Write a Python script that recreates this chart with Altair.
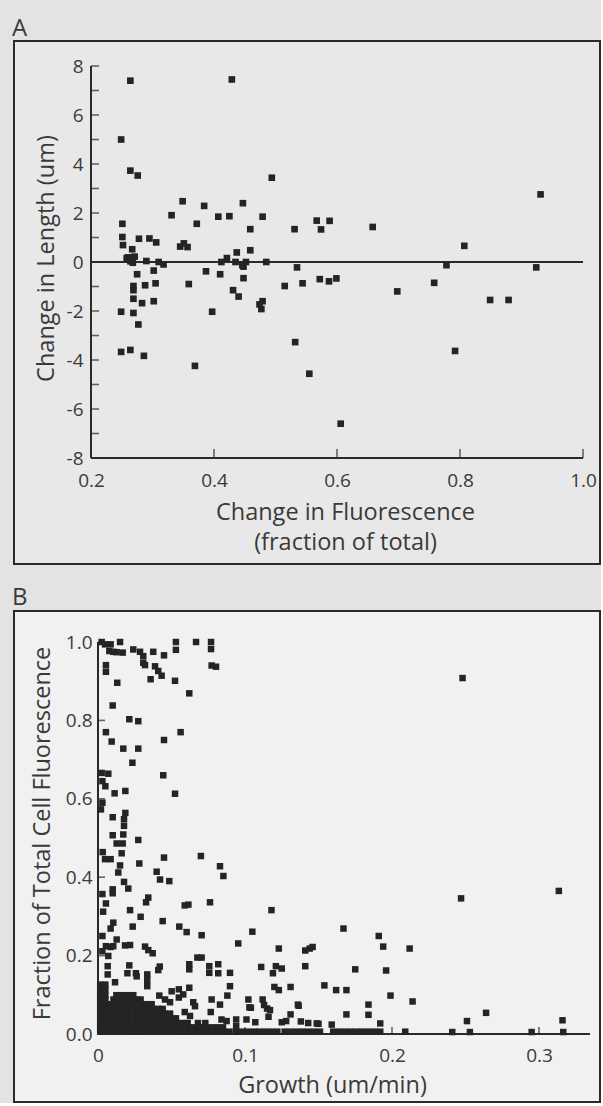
import altair as alt
import pandas as pd

FONT = "Open Sans"
TEXT = "#3a3a3a"
LINE = "#2a2a2a"
POINT = "#242424"

# ---------------- Panel A: change in fluorescence vs change in length ----------------
a_fluor = [0.264, 0.429, 0.249, 0.264, 0.276, 0.494, 0.931, 0.349, 0.447, 0.384,
           0.331, 0.407, 0.425, 0.479, 0.251, 0.372, 0.567, 0.588, 0.574, 0.531,
           0.459, 0.658, 0.251, 0.252, 0.267, 0.278, 0.295, 0.306, 0.345, 0.351,
           0.357, 0.437, 0.459, 0.807, 0.260, 0.266, 0.271, 0.264, 0.290, 0.310,
           0.318, 0.412, 0.421, 0.435, 0.446, 0.452, 0.485, 0.275, 0.302, 0.387,
           0.410, 0.448, 0.269, 0.269, 0.288, 0.305, 0.359, 0.269, 0.283, 0.302,
           0.431, 0.440, 0.474, 0.479, 0.477, 0.515, 0.535, 0.544, 0.572, 0.587,
           0.599, 0.698, 0.758, 0.778, 0.924, 0.849, 0.879, 0.249, 0.269, 0.397,
           0.277, 0.532, 0.249, 0.264, 0.286, 0.792, 0.369, 0.555, 0.606, 0.258,
           0.268, 0.448]
a_length = [7.40, 7.45, 5.00, 3.73, 3.53, 3.44, 2.76, 2.48, 2.40, 2.29,
            1.91, 1.85, 1.87, 1.85, 1.56, 1.56, 1.69, 1.68, 1.33, 1.34,
            1.34, 1.43, 1.02, 0.69, 0.52, 0.95, 0.96, 0.80, 0.63, 0.76,
            0.61, 0.39, 0.48, 0.66, 0.19, 0.19, 0.22, 0.03, 0.04, 0.00,
            -0.10, 0.00, 0.16, 0.00, -0.13, 0.00, 0.00, -0.50, -0.35, -0.38,
            -0.50, -0.66, -0.98, -1.15, -0.95, -0.87, -0.90, -1.50, -1.68, -1.60,
            -1.15, -1.41, -1.73, -1.60, -1.92, -0.98, -0.22, -0.87, -0.70, -0.79,
            -0.67, -1.20, -0.85, -0.13, -0.22, -1.55, -1.55, -2.03, -2.08, -2.03,
            -2.55, -3.27, -3.67, -3.59, -3.83, -3.63, -4.24, -4.56, -6.60, 0.15,
            -0.03, -0.19]

a_x_ticks = [0.2, 0.4, 0.6, 0.8, 1.0]
a_y_labels = [-8, -6, -4, -2, 0, 2, 4, 6, 8]
a_y_ticks = [-8, -7, -6, -5, -4, -3, -2, -1, 0, 1, 2, 3, 4, 5, 6, 7, 8]

# ---------------- Panel B: growth vs fraction of total cell fluorescence ----------------
b_growth = [
    0.0025, 0.0048, 0.0086, 0.015, 0.0077, 0.0104, 0.0127, 0.0168, 0.024, 0.0286,
    0.0308, 0.0308, 0.032, 0.0376, 0.0449, 0.053, 0.053, 0.0667, 0.0769, 0.0769,
    0.0773, 0.0803, 0.0054, 0.0054, 0.0388, 0.041, 0.0433, 0.0358, 0.0524, 0.0131,
    0.0621, 0.010, 0.0213, 0.0274, 0.0054, 0.0562, 0.0093, 0.0449, 0.0172, 0.0274,
    0.0234, 0.0444, 0.0025, 0.007, 0.003, 0.005, 0.0113, 0.0186, 0.0524, 0.003,
    0.002, 0.010, 0.0186, 0.0177, 0.0177, 0.248,
    0.0172, 0.010, 0.0274, 0.0127, 0.0168, 0.0161, 0.0032, 0.0048, 0.0086, 0.0281,
    0.0449, 0.070, 0.083, 0.0853, 0.015, 0.0138, 0.0399, 0.0422, 0.0485, 0.0177,
    0.0206, 0.010, 0.010, 0.003, 0.0054, 0.0342, 0.0327, 0.059, 0.0615, 0.0762,
    0.0218, 0.0035, 0.029, 0.044, 0.0104, 0.0086, 0.0236, 0.0553, 0.0603, 0.0705,
    0.0954, 0.003, 0.0127, 0.0054, 0.0086, 0.0104, 0.0184, 0.0218, 0.003, 0.007,
    0.032, 0.0342, 0.0372, 0.0676, 0.0705, 0.0621, 0.0621, 0.0757, 0.0757, 0.0818,
    0.0818, 0.0213, 0.042, 0.041, 0.0066, 0.0066, 0.020, 0.0258, 0.0263, 0.0335,
    0.0335, 0.0335, 0.0898, 0.0898, 0.088, 0.1023, 0.0116, 0.0621, 0.0501, 0.055,
    0.058, 0.055, 0.0417, 0.0456, 0.049, 0.0648, 0.066, 0.0773, 0.083, 0.0767,
    0.059, 0.0626, 0.084, 0.0875, 0.094, 0.094, 0.103,
    0.118, 0.105, 0.167, 0.191, 0.194, 0.212, 0.123, 0.141, 0.144, 0.146,
    0.111, 0.121, 0.125, 0.119, 0.141, 0.175, 0.196, 0.120, 0.123, 0.131,
    0.154, 0.162, 0.169, 0.199, 0.214, 0.104, 0.112, 0.113, 0.115, 0.117,
    0.116, 0.136, 0.184, 0.131, 0.169, 0.184, 0.101, 0.107, 0.125, 0.138,
    0.143, 0.150, 0.159, 0.192, 0.209, 0.247, 0.3135, 0.251, 0.264, 0.316,
    0.241, 0.253, 0.295, 0.3165, 0.1365, 0.1488, 0.128]
b_fraction = [
    1.000, 0.994, 0.994, 1.000, 0.977, 0.975, 0.974, 0.973, 0.981, 0.975,
    0.964, 0.947, 0.941, 0.975, 0.966, 1.000, 0.980, 1.000, 1.000, 0.982,
    0.940, 0.937, 0.941, 0.924, 0.938, 0.926, 0.914, 0.905, 0.901, 0.896,
    0.869, 0.838, 0.803, 0.798, 0.770, 0.770, 0.746, 0.750, 0.728, 0.728,
    0.692, 0.660, 0.666, 0.664, 0.645, 0.632, 0.614, 0.620, 0.613, 0.590,
    0.573, 0.553, 0.564, 0.548, 0.531, 0.908,
    0.509, 0.507, 0.495, 0.486, 0.486, 0.461, 0.464, 0.446, 0.446, 0.435,
    0.450, 0.454, 0.428, 0.403, 0.430, 0.412, 0.414, 0.394, 0.390, 0.388,
    0.371, 0.369, 0.359, 0.357, 0.333, 0.348, 0.336, 0.328, 0.330, 0.336,
    0.316, 0.312, 0.299, 0.288, 0.284, 0.269, 0.274, 0.274, 0.260, 0.252,
    0.231, 0.250, 0.241, 0.224, 0.222, 0.224, 0.226, 0.227, 0.211, 0.199,
    0.223, 0.214, 0.206, 0.195, 0.195, 0.178, 0.165, 0.173, 0.156, 0.178,
    0.155, 0.175, 0.172, 0.163, 0.173, 0.152, 0.155, 0.155, 0.147, 0.152,
    0.138, 0.122, 0.156, 0.122, 0.098, 0.088, 0.132, 0.118, 0.109, 0.114,
    0.101, 0.093, 0.098, 0.088, 0.081, 0.081, 0.071, 0.088, 0.075, 0.056,
    0.056, 0.046, 0.037, 0.033, 0.037, 0.020, 0.068,
    0.316, 0.261, 0.269, 0.250, 0.223, 0.218, 0.218, 0.213, 0.218, 0.222,
    0.171, 0.173, 0.167, 0.155, 0.173, 0.165, 0.162, 0.120, 0.112, 0.120,
    0.124, 0.112, 0.112, 0.098, 0.083, 0.067, 0.088, 0.074, 0.065, 0.061,
    0.044, 0.075, 0.075, 0.050, 0.050, 0.049, 0.037, 0.030, 0.030, 0.032,
    0.028, 0.026, 0.024, 0.027, 0.006, 0.346, 0.365, 0.033, 0.054, 0.035,
    0.005, 0.005, 0.005, 0.005, 0.072, 0.027, 0.033]

# dense overlapping cluster near the origin, read row by row (fraction level, growth values)
b_blob_rows = [
    (0.126, [0.0015, 0.0050]),
    (0.113, [0.0015, 0.0050]),
    (0.099, [0.0015, 0.0050, 0.0125, 0.0160, 0.0200, 0.0240]),
    (0.088, [0.0015, 0.0050, 0.0105, 0.0140, 0.0180, 0.0220, 0.0260, 0.0290]),
    (0.076, [0.0015, 0.0055, 0.0095, 0.0135, 0.0175, 0.0215, 0.0255, 0.0295, 0.0335, 0.0365]),
    (0.064, [0.0015, 0.0055, 0.0095, 0.0135, 0.0175, 0.0215, 0.0255, 0.0295, 0.0335, 0.0375,
             0.0410, 0.0440]),
    (0.052, [0.0015, 0.0055, 0.0095, 0.0135, 0.0175, 0.0215, 0.0255, 0.0295, 0.0335, 0.0375,
             0.0415, 0.0455, 0.0490]),
    (0.040, [0.0015, 0.0055, 0.0095, 0.0135, 0.0175, 0.0215, 0.0255, 0.0295, 0.0335, 0.0375,
             0.0415, 0.0455, 0.0495, 0.0530]),
    (0.028, [0.0015, 0.0055, 0.0095, 0.0135, 0.0175, 0.0215, 0.0255, 0.0295, 0.0335, 0.0375,
             0.0415, 0.0455, 0.0495, 0.0535, 0.0575, 0.0610, 0.0680, 0.0730]),
    (0.017, [0.0015, 0.0055, 0.0095, 0.0135, 0.0175, 0.0215, 0.0255, 0.0295, 0.0335, 0.0375,
             0.0415, 0.0455, 0.0495, 0.0535, 0.0575, 0.0615, 0.0655, 0.0695, 0.0735, 0.0775,
             0.0815, 0.0850]),
    (0.006, [0.0015, 0.0055, 0.0095, 0.0135, 0.0175, 0.0215, 0.0255, 0.0295, 0.0335, 0.0375,
             0.0415, 0.0455, 0.0495, 0.0535, 0.0575, 0.0615, 0.0655, 0.0695, 0.0735, 0.0775,
             0.0815, 0.0855, 0.0895, 0.094, 0.098, 0.102, 0.106, 0.110, 0.114, 0.118,
             0.122, 0.127, 0.131, 0.135, 0.139, 0.143, 0.147, 0.151, 0.160, 0.164,
             0.168, 0.172, 0.176, 0.180, 0.184, 0.188, 0.192]),
]

b_x_ticks = [0.0, 0.1, 0.2, 0.3]
b_y_ticks = [0.0, 0.2, 0.4, 0.6, 0.8, 1.0]

# ---------------- tables ----------------
dfA = pd.DataFrame({"x": a_fluor, "y": a_length})
blob_x = [gx for _, row in b_blob_rows for gx in row]
blob_y = [fy for fy, row in b_blob_rows for _ in row]
dfB = pd.DataFrame({"x": b_growth + blob_x, "y": b_fraction + blob_y})

one = pd.DataFrame({"k": [0]})


def frame(x1, x2, y1, y2, fill):
    return alt.Chart(one).mark_rect(fill=fill, stroke=LINE, strokeWidth=2).encode(
        x=alt.value(x1), x2=alt.value(x2), y=alt.value(y1), y2=alt.value(y2))


def letter(t, x, y):
    return alt.Chart(pd.DataFrame({"t": [t]})).mark_text(
        align="left", baseline="alphabetic", font=FONT, fontSize=24, color=TEXT
    ).encode(x=alt.value(x), y=alt.value(y), text="t:N")


axis_common = dict(domain=False, ticks=False, grid=False, labelFont=FONT, labelFontSize=19,
                   labelColor=TEXT, labelFlush=False, titleFont=FONT, titleFontSize=23.5,
                   titleFontWeight="normal", titleColor=TEXT, zindex=1)

# ---- Panel A encodings ----
xA = alt.X("x:Q", scale=alt.Scale(domain=[0.2, 1.0], nice=False, zero=False),
           axis=alt.Axis(values=a_x_ticks, format=".1f", labelPadding=13,
                         title=["Change in Fluorescence", "(fraction of total)"],
                         titleX=254, titleY=61, titleAlign="center", titleBaseline="alphabetic",
                         titleLineHeight=30, **axis_common))
yA = alt.Y("y:Q", scale=alt.Scale(domain=[-8, 8], nice=False, zero=False),
           axis=alt.Axis(values=a_y_labels,
                         labelExpr="datum.value < 0 ? '-' + abs(datum.value) : '' + datum.value",
                         labelPadding=8,
                         title="Change in Length (um)", titleX=-45, titleY=192,
                         titleAngle=270, titleAlign="center", titleBaseline="middle",
                         **axis_common))

rulesA = pd.DataFrame({"x": [0.2, 0.2, 0.2], "x2": [0.2, 1.0, 1.0],
                       "y": [-8, -8, 0], "y2": [8, -8, 0]})
ytickA = pd.DataFrame({"x": [0.2] * len(a_y_ticks), "y": a_y_ticks})
xtickA = pd.DataFrame({"x": a_x_ticks[1:], "y": [-8] * (len(a_x_ticks) - 1)})

panelA = alt.layer(
    frame(-77, 509, -25, 498, "#e8e8e8"),
    alt.Chart(rulesA).mark_rule(color=LINE, strokeWidth=2).encode(
        x=xA, x2="x2:Q", y=yA, y2="y2:Q"),
    alt.Chart(ytickA).mark_tick(orient="horizontal", size=8, thickness=1.6, xOffset=4,
                                color=LINE).encode(x=xA, y=yA),
    alt.Chart(xtickA).mark_tick(orient="vertical", size=9, thickness=1.6, yOffset=-4.5,
                                color=LINE).encode(x=xA, y=yA),
    alt.Chart(dfA).mark_square(size=44, color=POINT, opacity=1).encode(x=xA, y=yA),
    letter("A", -79, -30),
).properties(width=492, height=392)

# ---- Panel B encodings ----
xB = alt.X("x:Q", scale=alt.Scale(domain=[-0.00476, 0.3347], nice=False, zero=False),
           axis=alt.Axis(values=b_x_ticks, format=".1~f", labelPadding=12,
                         title="Growth (um/min)", titleX=241, titleY=58,
                         titleAlign="center", titleBaseline="alphabetic", **axis_common))
yB = alt.Y("y:Q", scale=alt.Scale(domain=[0, 1.0], nice=False, zero=False),
           axis=alt.Axis(values=b_y_ticks, format=".1f", labelPadding=6, offset=-7,
                         title="Fraction of Total Cell Fluorescence", titleX=-56, titleY=191,
                         titleAngle=270, titleAlign="center", titleBaseline="middle",
                         **axis_common))

rulesB = pd.DataFrame({"x": [0.0, 0.0], "x2": [0.0, 0.3347], "y": [0.0, 0.0], "y2": [1.0, 0.0]})
ytickB = pd.DataFrame({"x": [0.0] * len(b_y_ticks), "y": b_y_ticks})
xtickB = pd.DataFrame({"x": b_x_ticks[1:], "y": [0.0] * (len(b_x_ticks) - 1)})

panelB = alt.layer(
    frame(-77, 509, -31, 460, "#f1f1f1"),
    alt.Chart(rulesB).mark_rule(color=LINE, strokeWidth=2).encode(
        x=xB, x2="x2:Q", y=yB, y2="y2:Q"),
    alt.Chart(ytickB).mark_tick(orient="horizontal", size=7, thickness=1.6, xOffset=3.5,
                                color=LINE).encode(x=xB, y=yB),
    alt.Chart(xtickB).mark_tick(orient="vertical", size=7, thickness=1.6, yOffset=-3.5,
                                color=LINE).encode(x=xB, y=yB),
    alt.Chart(dfB).mark_square(size=42, color=POINT, opacity=1).encode(x=xB, y=yB),
    letter("B", -79, -37),
).properties(width=499, height=392)

chart = alt.vconcat(panelA, panelB, spacing=21).properties(
    padding={"left": 12, "top": 17, "right": 0, "bottom": 0},
    background="#e3e3e3",
).configure_view(strokeWidth=0)

chart.save("out.html", embed_options={"renderer": "svg", "actions": False})
